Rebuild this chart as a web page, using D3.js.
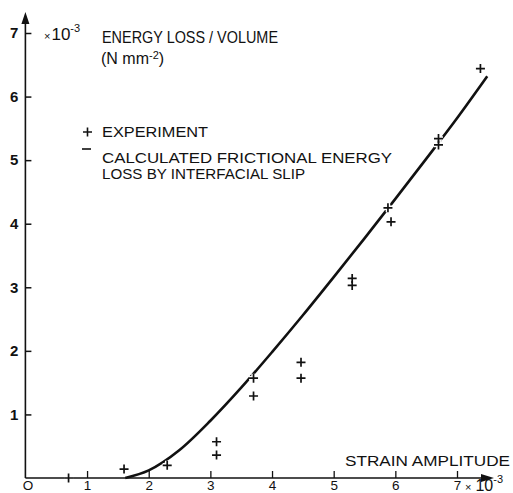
<!DOCTYPE html>
<html>
<head>
<meta charset="utf-8">
<script src="https://cdn.jsdelivr.net/npm/d3@7"></script>
<style>
  html, body { margin: 0; padding: 0; background: #fff; }
  svg { display: block; }
  text { font-family: "Liberation Sans", "DejaVu Sans", sans-serif; fill: #111; }
</style>
</head>
<body>
<svg id="chart" width="513" height="493"></svg>
<script>
// Measured energy loss per unit volume (x: strain amplitude ×10⁻³, y: energy ×10⁻³ N mm⁻²)
const expStrain = [0.7, 1.6, 2.3, 3.1, 3.1, 3.7, 3.7, 4.47, 4.47, 5.3, 5.3, 5.88, 5.93, 6.7, 6.7, 7.38];
const expEnergy = [0.0, 0.14, 0.2, 0.36, 0.57, 1.29, 1.57, 1.57, 1.82, 3.03, 3.14, 4.25, 4.03, 5.24, 5.34, 6.44];

// Calculated frictional energy loss by interfacial slip
const calcStrain = [1.62, 2.0, 2.5, 3.0, 3.5, 4.0, 4.5, 5.0, 5.5, 6.0, 6.5, 7.0, 7.49];
const calcEnergy = [0.0, 0.12, 0.44, 0.9, 1.42, 1.98, 2.56, 3.16, 3.77, 4.39, 5.02, 5.66, 6.32];

const xTickValues = [0, 1, 2, 3, 4, 5, 6, 7];
const yTickValues = [1, 2, 3, 4, 5, 6, 7];

const svg = d3.select("#chart");
const x = d3.scaleLinear().domain([0, 7]).range([25.4, 457]);
const y = d3.scaleLinear().domain([0, 7]).range([478, 33]);

const ink = "#111";

// Axes (ticks only; the axis lines with arrowheads are drawn separately)
const yAxis = d3.axisLeft(y).tickValues(yTickValues).tickSizeInner(-6).tickSizeOuter(0).tickPadding(7)
  .tickFormat(d3.format("d"));
const gy = svg.append("g").attr("transform", `translate(${x(0)},0)`).call(yAxis);
gy.select(".domain").remove();
gy.selectAll(".tick line").attr("stroke", ink).attr("stroke-width", 1.5);
gy.selectAll(".tick text").attr("font-size", 15).attr("font-weight", "bold").attr("fill", ink)
  .attr("font-family", "Liberation Sans, sans-serif");

const xAxis = d3.axisBottom(x).tickValues(xTickValues).tickSizeInner(-7).tickSizeOuter(0).tickPadding(2)
  .tickFormat(d => d === 0 ? "O" : String(d));
const gx = svg.append("g").attr("transform", `translate(0,${y(0)})`).call(xAxis);
gx.select(".domain").remove();
gx.selectAll(".tick line").attr("stroke", ink).attr("stroke-width", 1.3)
  .attr("display", d => d === 0 ? "none" : null);
gx.selectAll(".tick text").attr("font-size", 13.5).attr("fill", ink)
  .attr("font-family", "Liberation Sans, sans-serif")
  .attr("dx", d => d === 0 ? 2 : 0);

// Axis lines with arrowheads
svg.append("line").attr("x1", x(0)).attr("y1", y(0)).attr("x2", x(0)).attr("y2", 20)
  .attr("stroke", ink).attr("stroke-width", 1.6);
svg.append("path").attr("d", `M${x(0)},12 L${x(0) - 4},24 L${x(0) + 4},24 Z`).attr("fill", ink);
svg.append("line").attr("x1", x(0)).attr("y1", y(0)).attr("x2", 484).attr("y2", y(0))
  .attr("stroke", ink).attr("stroke-width", 1.6);
svg.append("path").attr("d", `M494,${y(0)} L481,${y(0) - 4} L481,${y(0) + 4} Z`).attr("fill", ink);

// Calculated curve
const line = d3.line().x(d => x(d[0])).y(d => y(d[1])).curve(d3.curveMonotoneX);
svg.append("path").datum(d3.zip(calcStrain, calcEnergy)).attr("d", line)
  .attr("fill", "none").attr("stroke", ink).attr("stroke-width", 2.6).attr("stroke-linecap", "butt");

// Experimental points: white halo first, then the crosses
const pts = d3.zip(expStrain, expEnergy);
const cross = "M-4.5,0H4.5M0,-4.5V4.5";
svg.append("g").selectAll("path").data(pts).join("path")
  .attr("d", cross).attr("transform", d => `translate(${x(d[0])},${y(d[1])})`)
  .attr("stroke", "#fff").attr("stroke-width", 4.5).attr("fill", "none");
svg.append("g").selectAll("path").data(pts).join("path")
  .attr("d", cross).attr("transform", d => `translate(${x(d[0])},${y(d[1])})`)
  .attr("stroke", ink).attr("stroke-width", 1.7).attr("fill", "none");

// Y-axis unit and title
const yUnit = svg.append("text").attr("x", 44).attr("y", 40).attr("font-size", 17);
yUnit.append("tspan").text("×").attr("font-size", 11);
yUnit.append("tspan").text("10").attr("dx", 1);
yUnit.append("tspan").text("-3").attr("font-size", 11).attr("dy", -8);

svg.append("text").attr("x", 102).attr("y", 43).attr("font-size", 17)
  .attr("textLength", 176).attr("lengthAdjust", "spacingAndGlyphs")
  .text("ENERGY  LOSS / VOLUME");
const unitT = svg.append("text").attr("x", 101).attr("y", 64).attr("font-size", 16);
unitT.append("tspan").text("(N  mm");
unitT.append("tspan").text("-2").attr("font-size", 11).attr("dy", -5);
unitT.append("tspan").text(")").attr("dy", 5);

// Legend
svg.append("path").attr("d", "M83,132H92M87.5,127.5V136.5").attr("stroke", ink).attr("stroke-width", 1.6);
svg.append("text").attr("x", 102).attr("y", 137).attr("font-size", 14.5)
  .attr("textLength", 106).attr("lengthAdjust", "spacingAndGlyphs").text("EXPERIMENT");
svg.append("path").attr("d", "M82,149H91").attr("stroke", ink).attr("stroke-width", 1.6);
svg.append("text").attr("x", 102).attr("y", 162.5).attr("font-size", 13.8)
  .attr("textLength", 290).attr("lengthAdjust", "spacingAndGlyphs").text("CALCULATED  FRICTIONAL  ENERGY");
svg.append("text").attr("x", 102).attr("y", 178.5).attr("font-size", 13.8)
  .attr("textLength", 203).attr("lengthAdjust", "spacingAndGlyphs").text("LOSS  BY  INTERFACIAL  SLIP");

// X-axis title and unit
svg.append("text").attr("x", 345).attr("y", 466).attr("font-size", 14.5)
  .attr("textLength", 165).attr("lengthAdjust", "spacingAndGlyphs").text("STRAIN  AMPLITUDE");
const xUnit = svg.append("text").attr("x", 465).attr("y", 491).attr("font-size", 16);
xUnit.append("tspan").text("×").attr("font-size", 11);
xUnit.append("tspan").text("10").attr("dx", 4);
xUnit.append("tspan").text("-3").attr("font-size", 11).attr("dy", -8);
</script>
</body>
</html>
